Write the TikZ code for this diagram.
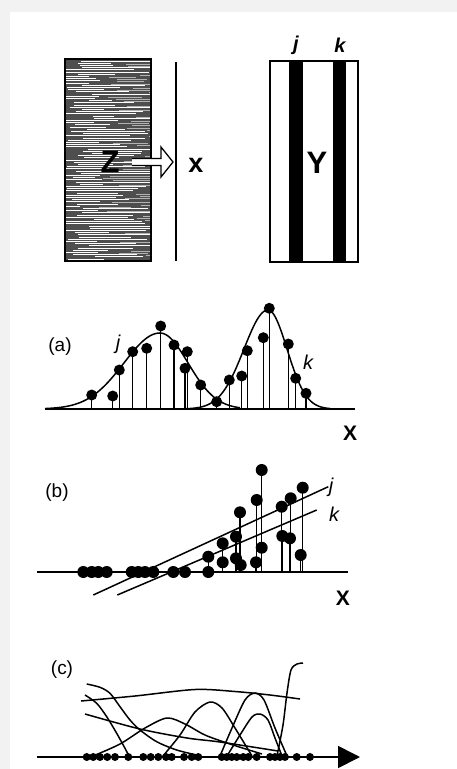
\documentclass[tikz,border=0pt]{standalone}
\usepackage{fontspec}
\setmainfont{Liberation Sans}
\usetikzlibrary{arrows.meta}
\definecolor{bgGray}{HTML}{F2F2F2}
\definecolor{zGray}{HTML}{4E4E4E}
\tikzset{
  big/.style={font=\fontsize{31}{31}\selectfont\bfseries, inner sep=0pt},
  idxtop/.style={font=\fontsize{20}{20}\selectfont\bfseries\itshape, inner sep=0pt},
  idx/.style={font=\fontsize{20}{20}\selectfont\itshape, inner sep=0pt},
  tag/.style={font=\fontsize{19}{19}\selectfont, inner sep=0pt},
  axl/.style={font=\fontsize{21}{21}\selectfont\bfseries, inner sep=0pt},
  stem/.style={line width=1.1pt},
  crv/.style={line width=1.5pt},
  base/.style={line width=1.8pt},
}

\begin{document}
\begin{tikzpicture}[x=1pt, y=-1pt]
  \useasboundingbox (0,0) rectangle (457,769);
  \fill[bgGray] (0,0) rectangle (457,769);
  \fill[white] (10,12) rectangle (457,769);

  % Z block with streaks
  \pgfmathsetseed{11}
  \begin{scope}
    \clip (65,59) rectangle (151,261);
    \fill[zGray] (65,59) rectangle (151,261);
    \foreach \yy in {61,63.2,...,259}{
      \pgfmathsetmacro\xa{55+40*rnd}
      \pgfmathsetmacro\xb{\xa+20+70*rnd}
      \pgfmathsetmacro\xc{\xb+8+20*rnd}
      \draw[white, line width=0.7pt] (\xa,\yy) -- (\xb,\yy);
      \draw[gray!60, line width=0.6pt] (\xc,\yy+0.9) -- (\xc+25+30*rnd,\yy+0.9);
    }
  \end{scope}
  \draw[line width=1.6pt] (65,59) rectangle (151,261);
  \node[big] (zlab) at (110,162) {Z};
  \draw[fill=white, line width=1.3pt] (132,158.5) -- (161,158.5) -- (161,147) -- (173,162)
    -- (161,177) -- (161,165.5) -- (132,165.5);
  \draw[line width=1.4pt] (176,62) -- (176,261);
  \node[big, font=\fontsize{27}{27}\selectfont\bfseries] (xlab) at (196,165) {x};

  % Y block
  \draw[line width=1.4pt] (270,61) rectangle (358,262);
  \fill (289,61) rectangle (303,262);
  \fill (333,61) rectangle (346,262);
  \node[big] (ylab) at (317,163) {Y};
  \node[idxtop] (jtop) at (296,45) {j};
  \node[idxtop] (ktop) at (340,45) {k};

  % (a) two peaks
  \node[tag] (alab) at (60,347) {(a)};
  \draw[base] (45,409) -- (355,409);
  \draw[crv] plot[domain=45:240, samples=120]
    (\x, {409-76*exp(-((\x-160)/((\x<160)?36:28))^2/2)});
  \draw[crv] plot[domain=180:330, samples=120]
    (\x, {409-99*exp(-((\x-268)/((\x<268)?24:19))^2/2)});
  \foreach \px/\py in {91.7/395, 112.7/396, 119.3/370, 132.7/351.7, 146.7/348.3,
      160.7/326, 174/345, 187.3/351.7, 185/368.3, 200.7/385, 216.7/401.7,
      229.3/380, 241.7/376, 247.3/350.7, 263.3/337.7, 269.3/308.3,
      288.3/344, 295.7/378.3, 306/393.3}{
    \draw[stem] (\px,\py) -- (\px,409);
    \fill (\px,\py) circle (5.5pt);
  }
  \node[idx] (ajlab) at (118,344) {j};
  \node[idx] (aklab) at (308,362) {k};
  \node[axl] (axlab) at (350,433) {X};

  % (b) two lines
  \node[tag] (blab) at (57,493) {(b)};
  \draw[base] (37,572) -- (348,572);
  \draw[crv] (93.3,595) -- (328.3,486.7);
  \draw[crv] (117.3,595) -- (316.7,510);
  \foreach \px in {83.3,91.7,98.3,106.7,131.7,138.3,145,153.3,173.3,185,208.3}
    \fill (\px,572) circle (6pt);
  \foreach \px/\py in {208.3/556.7, 222.7/543.3, 222.7/562.3, 236/536.7, 236/558.3,
      240.7/565, 240/512.3, 256/562.3, 256.7/500, 261.7/547.7, 261.7/470,
      281.7/506.7, 282.3/536, 290/538.3, 290.7/498.3, 300.7/555, 302.7/487.7}{
    \draw[stem] (\px,\py) -- (\px,572);
    \fill (\px,\py) circle (6pt);
  }
  \node[idx] (bjlab) at (331,487) {j};
  \node[idx] (bklab) at (334,514) {k};
  \node[axl] (bxlab) at (343,598) {X};

  % (c) many curves
  \node[tag] (clab) at (62,670) {(c)};
  \draw[base, -{Triangle[length=22pt, width=22pt]}] (37,757) -- (360,757);
  \draw[crv] plot[smooth] coordinates {(81,701) (135,696) (195,689.5) (235,691.5) (270,695) (300,699)};
  \draw[crv] plot[smooth] coordinates {(86.7,684) (100,687.3) (110,693.3) (120,706.7) (130,720)
    (140,730) (156.7,741.7) (176.7,750) (196.7,755)};
  \draw[crv] plot[smooth] coordinates {(85,695) (96.7,703.3) (106.7,716.7) (116.7,733.3)
    (125,748.3) (129.3,756.7)};
  \draw[crv] plot[smooth] coordinates {(85,714) (140,729) (187,738) (220,742) (278,751)};
  \draw[crv] plot[smooth] coordinates {(93,756) (120,744) (145,728) (167,718) (185,724)
    (205,735) (230,744) (262,754)};
  \draw[crv] plot[smooth] coordinates {(163,756) (180,735) (195,712) (210,702) (222,708)
    (235,728) (252,756)};
  \draw[crv] plot[smooth] coordinates {(220,756) (232,728) (245,700) (255,693) (264,700)
    (275,728) (287,756)};
  \draw[crv] plot[smooth] coordinates {(227,756) (240,735) (252,717) (260,714) (268,720)
    (275,738) (282,756)};
  \draw[crv] plot[smooth] coordinates {(277,756) (283,725) (287,693) (291,670) (297,664) (303,663)};
  \foreach \px in {86.7,93.3,100,107.3,115,128.3,143.3,150.7,158.3,166,171.7,184,191.7,198.3,
      221.7,226.7,231.7,236.7,243.3,248.3,256.7,270,275,280,285,296.7,310}
    \fill (\px,757) circle (4pt);
\end{tikzpicture}
\end{document}
